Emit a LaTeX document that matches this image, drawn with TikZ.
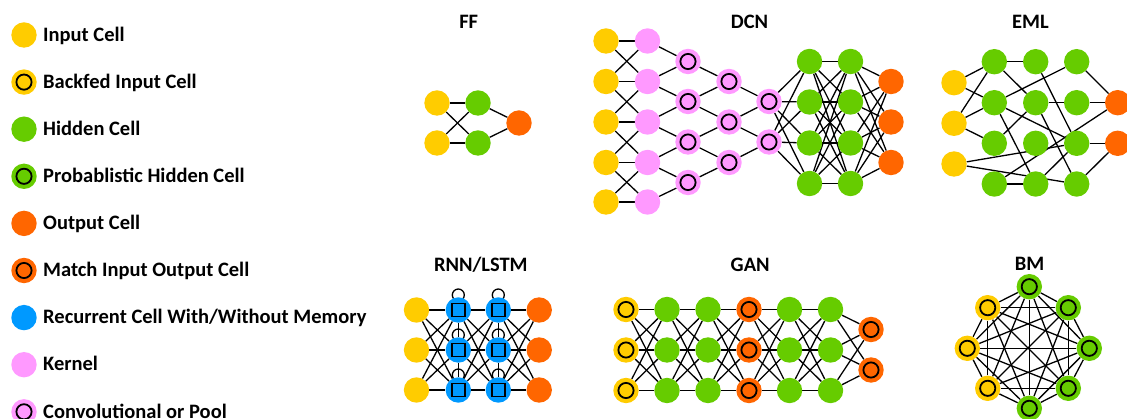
\documentclass[tikz,border=0pt]{standalone}
\usepackage{fontspec}
\setmainfont{Carlito}
\usetikzlibrary{backgrounds}
\definecolor{cyel}{RGB}{255,204,0}
\definecolor{cgrn}{RGB}{102,204,0}
\definecolor{corg}{RGB}{255,102,0}
\definecolor{cblu}{RGB}{0,153,255}
\definecolor{cpnk}{RGB}{255,153,255}
\begin{document}
\begin{tikzpicture}[x=1pt,y=-1pt,
  cell/.style={circle,minimum size=25.4pt,inner sep=0pt,draw=none},
  cin/.style={cell,fill=cyel},
  chid/.style={cell,fill=cgrn},
  cout/.style={cell,fill=corg},
  cblue/.style={cell,fill=cblu},
  ckern/.style={cell,fill=cpnk},
  ring/.style={path picture={\draw[line width=1.8pt] (path picture bounding box.center) circle (7.6pt);}},
  crec/.style={cblue,path picture={\draw[line width=1.7pt,fill=cblu] ([shift={(-6.6pt,-6.6pt)}]path picture bounding box.center) rectangle ([shift={(6.6pt,6.6pt)}]path picture bounding box.center);}},
  lbl/.style={anchor=base west,font=\fontsize{20.5}{22}\selectfont\bfseries,inner sep=0pt},
  ttl/.style={anchor=base,font=\fontsize{20.5}{22}\selectfont\bfseries,inner sep=0pt},
  lnk/.style={line width=1.3pt,black}
]
\useasboundingbox (0,0) rectangle (1127,419);
\begin{scope}[on background layer]
\fill[white] (0,0) rectangle (1127,419);
\end{scope}

% ---------------- Legend ----------------
\node[cin] (L1) at (24,35) {};
\node[lbl] (T1) at (43,41.3) {Input Cell};
\node[cin,ring] (L2) at (24,82.1) {};
\node[lbl] (T2) at (43,88.4) {Backfed Input Cell};
\node[chid] (L3) at (24,129.2) {};
\node[lbl] (T3) at (43,135.5) {Hidden Cell};
\node[chid,ring] (L4) at (24,176.3) {};
\node[lbl] (T4) at (43,182.6) {Probablistic Hidden Cell};
\node[cout] (L5) at (24,223.4) {};
\node[lbl] (T5) at (43,229.7) {Output Cell};
\node[cout,ring] (L6) at (24,270.5) {};
\node[lbl] (T6) at (43,276.8) {Match Input Output Cell};
\node[cblue] (L7) at (24,317.6) {};
\node[lbl] (T7) at (43,323.9) {Recurrent Cell With/Without Memory};
\node[ckern] (L8) at (24,364.7) {};
\node[lbl] (T8) at (43,371) {Kernel};
\node[ckern,ring] (L9) at (24,411.8) {};
\node[lbl] (T9) at (43,418.1) {Convolutional or Pool};

% ---------------- Titles ----------------
\node[ttl] (tFF) at (468.7,29) {FF};
\node[ttl] (tDCN) at (749.5,29) {DCN};
\node[ttl] (tEML) at (1030.5,29) {EML};
\node[ttl] (tRNN) at (480.8,271.3) {RNN/LSTM};
\node[ttl] (tGAN) at (750.2,271.3) {GAN};
\node[ttl] (tBM) at (1029.5,270.6) {BM};

% ---------------- FF ----------------
\node[cin] (ff-i1) at (437,103) {};
\node[cin] (ff-i2) at (437,143) {};
\node[chid] (ff-h1) at (478,103) {};
\node[chid] (ff-h2) at (478,143) {};
\node[cout] (ff-o1) at (519,123) {};
\begin{scope}[on background layer]
\foreach \i in {1,2} \foreach \j in {1,2} \draw[lnk] (ff-i\i) -- (ff-h\j);
\foreach \i in {1,2} \draw[lnk] (ff-h\i) -- (ff-o1);
\end{scope}

% ---------------- DCN ----------------
\foreach \y [count=\i] in {41,81.5,122,162.5,202} {
  \node[cin] (dc-y\i) at (606,\y) {};
  \node[ckern] (dc-k\i) at (647.5,\y) {};
}
\foreach \y [count=\i] in {61.5,101.5,142,182.5} \node[ckern,ring] (dc-a\i) at (688,\y) {};
\foreach \y [count=\i] in {81.5,122,162.5} \node[ckern,ring] (dc-b\i) at (729,\y) {};
\foreach \y [count=\i] in {101.5,142} \node[ckern,ring] (dc-c\i) at (769,\y) {};
\foreach \y [count=\i] in {61.5,102,143,183.5} {
  \node[chid] (dc-g\i) at (809.5,\y) {};
  \node[chid] (dc-h\i) at (850.5,\y) {};
}
\foreach \y [count=\i] in {81.5,122,162.5} \node[cout] (dc-o\i) at (891,\y) {};
\begin{scope}[on background layer]
\foreach \i in {1,...,5} \draw[lnk] (dc-y\i) -- (dc-k\i);
\foreach \i [evaluate=\i as \j using int(\i+1)] in {1,...,4} {
  \draw[lnk] (dc-y\i) -- (dc-k\j);
  \draw[lnk] (dc-y\j) -- (dc-k\i);
  \draw[lnk] (dc-k\i) -- (dc-a\i);
  \draw[lnk] (dc-k\j) -- (dc-a\i);
}
\foreach \i [evaluate=\i as \j using int(\i+1)] in {1,2,3} {
  \draw[lnk] (dc-a\i) -- (dc-b\i);
  \draw[lnk] (dc-a\j) -- (dc-b\i);
}
\foreach \i [evaluate=\i as \j using int(\i+1)] in {1,2} {
  \draw[lnk] (dc-b\i) -- (dc-c\i);
  \draw[lnk] (dc-b\j) -- (dc-c\i);
}
\foreach \i in {1,2} \foreach \j in {1,...,4} \draw[lnk] (dc-c\i) -- (dc-g\j);
\foreach \i in {1,...,4} \foreach \j in {1,...,4} \draw[lnk] (dc-g\i) -- (dc-h\j);
\foreach \i in {1,...,4} \foreach \j in {1,2,3} \draw[lnk] (dc-h\i) -- (dc-o\j);
\end{scope}

% ---------------- EML ----------------
\foreach \y [count=\i] in {82.7,123.3,164} \node[cin] (em-y\i) at (954,\y) {};
\foreach \y [count=\i] in {61.7,102.7,143.3,184} {
  \node[chid] (em-a\i) at (994.3,\y) {};
  \node[chid] (em-b\i) at (1035.7,\y) {};
  \node[chid] (em-c\i) at (1076.7,\y) {};
}
\node[cout] (em-o1) at (1117.7,102.7) {};
\node[cout] (em-o2) at (1117.7,143.3) {};
\begin{scope}[on background layer]
\draw[lnk] (em-y1) -- (em-a1);
\draw[lnk] (em-y1) -- (em-a2);
\draw[lnk] (em-y2) -- (em-a1);
\draw[lnk] (em-y2) -- (em-a2);
\draw[lnk] (em-y2) -- (em-a3);
\draw[lnk] (em-y3) -- (em-c3);
\draw[lnk] (em-y3) -- (em-c4);
\draw[lnk] (em-a1) -- (em-b1);
\draw[lnk] (em-a1) -- (em-b2);
\draw[lnk] (em-a2) -- (em-c1);
\draw[lnk] (em-a2) -- (em-c3);
\draw[lnk] (em-a2) -- (em-b4);
\draw[lnk] (em-a3) -- (em-b2);
\draw[lnk] (em-a4) -- (em-b4);
\draw[lnk] (em-a4) -- (em-o1);
\draw[lnk] (em-b1) -- (em-c3);
\draw[lnk] (em-b2) -- (em-c4);
\draw[lnk] (em-b2) -- (em-c2);
\draw[lnk] (em-b4) -- (em-c3);
\draw[lnk] (em-c1) -- (em-o1);
\draw[lnk] (em-c2) -- (em-o1);
\draw[lnk] (em-c3) -- (em-o2);
\draw[lnk] (em-c4) -- (em-o2);
\end{scope}

% ---------------- RNN/LSTM ----------------
\foreach \y [count=\i] in {310,350,390} {
  \node[cin] (rn-a\i) at (416.5,\y) {};
  \node[crec] (rn-b\i) at (458.3,\y) {};
  \node[crec] (rn-c\i) at (498.3,\y) {};
  \node[cout] (rn-d\i) at (539.2,\y) {};
}
\begin{scope}[on background layer]
\foreach \i in {1,2,3} \foreach \j in {1,2,3} {
  \draw[lnk] (rn-a\i) -- (rn-b\j);
  \draw[lnk] (rn-b\i) -- (rn-c\j);
  \draw[lnk] (rn-c\i) -- (rn-d\j);
}
\foreach \i [evaluate=\i as \j using int(\i+1)] in {1,2} {
  \draw[lnk] (rn-b\i) -- (rn-b\j);
  \draw[lnk] (rn-c\i) -- (rn-c\j);
}
\foreach \i in {1,2,3} {
  \draw[lnk] ([yshift=15pt]rn-b\i.center) circle (6pt);
  \draw[lnk] ([yshift=15pt]rn-c\i.center) circle (6pt);
}
\end{scope}

% ---------------- GAN ----------------
\foreach \y [count=\i] in {309.5,350,390.5} {
  \node[cin,ring] (gn-a\i) at (626,\y) {};
  \node[chid] (gn-b\i) at (667,\y) {};
  \node[chid] (gn-c\i) at (708,\y) {};
  \node[cout,ring] (gn-d\i) at (749,\y) {};
  \node[chid] (gn-e\i) at (789.5,\y) {};
  \node[chid] (gn-f\i) at (830.5,\y) {};
}
\node[cout,ring] (gn-g1) at (871,329.5) {};
\node[cout,ring] (gn-g2) at (871,370) {};
\begin{scope}[on background layer]
\foreach \i in {1,2,3} \foreach \j in {1,2,3} {
  \draw[lnk] (gn-a\i) -- (gn-b\j);
  \draw[lnk] (gn-b\i) -- (gn-c\j);
  \draw[lnk] (gn-c\i) -- (gn-d\j);
  \draw[lnk] (gn-d\i) -- (gn-e\j);
  \draw[lnk] (gn-e\i) -- (gn-f\j);
}
\foreach \i in {1,2,3} \foreach \j in {1,2} \draw[lnk] (gn-f\i) -- (gn-g\j);
\end{scope}

% ---------------- BM ----------------
\node[chid,ring] (bm1) at (1029.3,286.7) {};
\node[chid,ring] (bm2) at (1068.3,307.7) {};
\node[chid,ring] (bm3) at (1089.3,348.3) {};
\node[chid,ring] (bm4) at (1068.3,388.3) {};
\node[chid,ring] (bm5) at (1029.3,408.3) {};
\node[cin,ring] (bm6) at (987.7,388.3) {};
\node[cin,ring] (bm7) at (967.3,348.3) {};
\node[cin,ring] (bm8) at (987.7,307.7) {};
\begin{scope}[on background layer]
\foreach \i in {1,...,8} \foreach \j in {1,...,8} {
  \ifnum\i<\j \draw[lnk] (bm\i) -- (bm\j); \fi
}
\end{scope}
\end{tikzpicture}
\end{document}
